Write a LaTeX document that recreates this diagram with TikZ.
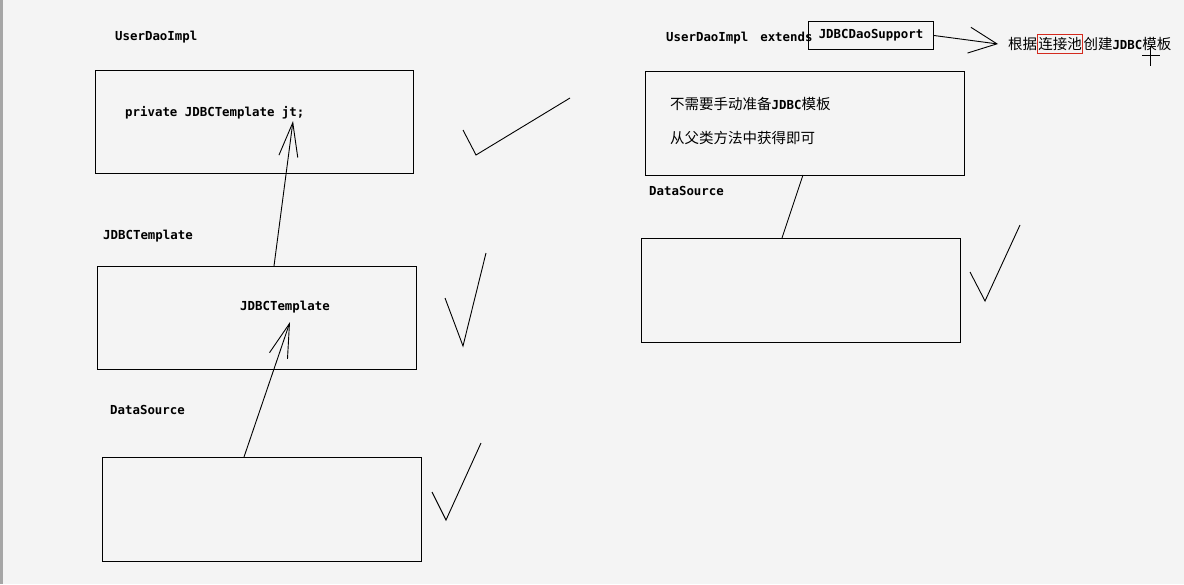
\documentclass[tikz,border=0pt]{standalone}
\usepackage{fontspec}
\setmonofont{DejaVu Sans Mono}
\newfontfamily\cjk{Noto Sans CJK SC}
\usetikzlibrary{arrows.meta,positioning}
\definecolor{paper}{HTML}{F4F4F4}
\definecolor{mark}{HTML}{D42A1E}
\newcommand{\code}{\ttfamily\bfseries\fontsize{12.4}{14}\selectfont}
\newcommand{\han}{\cjk\fontsize{14.5}{16}\selectfont}
\begin{document}
\begin{tikzpicture}[
    x=1pt,y=-1pt,
    box/.style={draw,line width=1pt,anchor=north west,inner sep=0pt},
    lbl/.style={anchor=west,inner sep=0pt,font=\code},
    note/.style={anchor=west,inner sep=0pt,font=\han},
    hand/.style={line width=0.9pt,-{Straight Barb[length=34pt,width=19pt]}},
    tick/.style={line width=0.9pt}
]
\fill[paper] (0,0) rectangle (1184,584);
\fill[gray!70] (0,0) rectangle (3,584);

% left side
\node[lbl] (daolbl) at (115,37) {UserDaoImpl};
\node[box,minimum width=318,minimum height=103] (dao) at (95,70) {};
\node[lbl] (field) at (125,113) {private JDBCTemplate jt;};

\node[lbl] (tmpllbl) at (103,236) {JDBCTemplate};
\node[box,minimum width=319,minimum height=103] (tmpl) at (97,266) {};
\node[lbl] (tmpltxt) at (240,307) {JDBCTemplate};

\node[lbl] (dslbl) at (110,410) {DataSource};
\node[box,minimum width=319,minimum height=104] (ds) at (102,457) {};

\coordinate (jt) at (293,121);
\coordinate (tmpltop) at (274,266);
\coordinate (tmplin) at (290,322);
\coordinate (dstop) at (244,457);
\draw[hand] (tmpltop) -- (jt);
\draw[hand] (dstop) -- (tmplin);

\draw[tick] (463,130) -- (476,155) -- (570,98);
\draw[tick] (445,298) -- (463,346) -- (486,253);
\draw[tick] (432,492) -- (446,520) -- (481,443);

% right side
\node[lbl] (sublbl) at (666,38) {UserDaoImpl\hspace{12pt}extends};
\node[box,minimum width=125,minimum height=28,font=\code] (support) at (808,21) {JDBCDaoSupport};

\node[note] (rulea) at (1008,44) {根据};
\node[draw=mark,line width=0.9pt,inner xsep=0.5pt,inner ysep=3pt,font=\han,right=0pt of rulea] (pool) {连接池};
\node[inner sep=0pt,right=0.5pt of pool] (ruleb) {{\han 创建}{\code JDBC}{\han 模板}};
\draw[line width=0.9pt,-{Straight Barb[length=28pt,width=26pt]}] (support.east) -- ([xshift=-10pt]rulea.west);
\draw[line width=0.6pt] (1150,46) -- (1150,66) (1142,55) -- (1160,55);

\node[box,minimum width=319,minimum height=104] (sub) at (645,71) {};
\node[note] (notea) at (670,104) {不需要手动准备{\code JDBC}模板};
\node[note] (noteb) at (670,138) {从父类方法中获得即可};

\node[lbl] (rdslbl) at (649,191) {DataSource};
\node[box,minimum width=319,minimum height=104] (rds) at (641,238) {};
\coordinate (subbot) at (803,175);
\coordinate (rdstop) at (782,238);
\draw[line width=0.9pt] (subbot) -- (rdstop);

\draw[tick] (970,272) -- (985,301) -- (1020,225);
\end{tikzpicture}
\end{document}
